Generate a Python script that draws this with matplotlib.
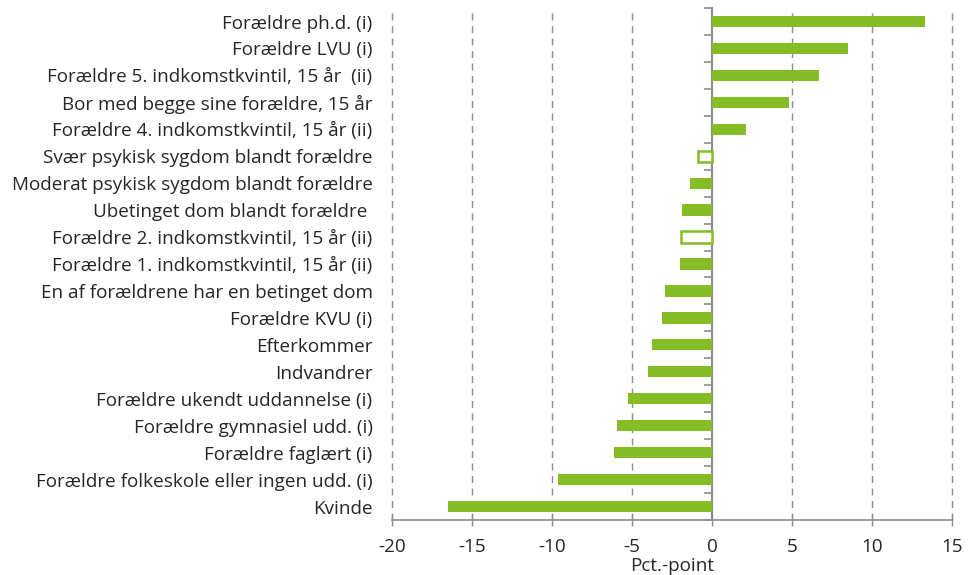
import matplotlib.pyplot as plt
import numpy as np

plt.rcParams['font.family'] = ['Open Sans', 'DejaVu Sans']

# Kategorier (fra øverst til nederst)
kategorier = [
    "Forældre ph.d. (i)",
    "Forældre LVU (i)",
    "Forældre 5. indkomstkvintil, 15 år  (ii)",
    "Bor med begge sine forældre, 15 år",
    "Forældre 4. indkomstkvintil, 15 år (ii)",
    "Svær psykisk sygdom blandt forældre",
    "Moderat psykisk sygdom blandt forældre",
    "Ubetinget dom blandt forældre ",
    "Forældre 2. indkomstkvintil, 15 år (ii)",
    "Forældre 1. indkomstkvintil, 15 år (ii)",
    "En af forældrene har en betinget dom",
    "Forældre KVU (i)",
    "Efterkommer",
    "Indvandrer",
    "Forældre ukendt uddannelse (i)",
    "Forældre gymnasiel udd. (i)",
    "Forældre faglært (i)",
    "Forældre folkeskole eller ingen udd. (i)",
    "Kvinde",
]
vaerdier = [13.3, 8.5, 6.7, 4.8, 2.1, -0.85, -1.4, -1.9, -1.95, -2.0,
            -2.95, -3.1, -3.75, -4.0, -5.25, -5.95, -6.15, -9.65, -16.5]
# ikke-signifikante estimater vises som hule søjler
hul = [False, False, False, False, False, True, False, False, True, False,
       False, False, False, False, False, False, False, False, False]

groen = '#86bc25'
graa = '#8c8c8c'
fs = 13.6

fig = plt.figure(figsize=(9.68, 5.75), dpi=100)
ax = fig.add_axes([0.405, 0.0957, 0.5785, 0.8903])

y = np.arange(len(kategorier))
for yi, v, h in zip(y, vaerdier, hul):
    if h:
        ax.barh(yi, v, height=0.42, color='white', edgecolor=groen, linewidth=1.8, zorder=3)
    else:
        ax.barh(yi, v, height=0.42, color=groen, edgecolor='none', zorder=3)

ax.set_xlim(-20, 15)
ax.set_ylim(len(kategorier) - 0.5, -0.5)
ax.set_xticks(np.arange(-20, 16, 5))
ax.set_xticklabels([str(t) for t in range(-20, 16, 5)])

# y-etiketter
ax.set_yticks(y)
ax.set_yticklabels(kategorier)
ax.tick_params(axis='y', length=0, pad=14, labelsize=fs, colors='#262626')
ax.tick_params(axis='x', direction='inout', length=8, width=1, color=graa,
               labelsize=fs, labelcolor='#262626', pad=9)

# gitterlinjer
for t in range(-20, 16, 5):
    if t != 0:
        ax.axvline(t, color=graa, linestyle=(0, (5, 4)), linewidth=1, zorder=1,
                   clip_on=False)

for s in ['top', 'right', 'left']:
    ax.spines[s].set_visible(False)
ax.spines['bottom'].set_color(graa)
ax.spines['bottom'].set_linewidth(1.2)

# nul-akse med streger mellem kategorierne
nul = ax.secondary_yaxis(20 / 35)
nul.set_alignment('left')
nul.set_yticks(np.arange(len(kategorier) + 1) - 0.5)
nul.set_yticklabels([])
nul.tick_params(axis='y', direction='out', length=6, width=1.2, color=graa)
nul.spines['left'].set_color(graa)
nul.spines['left'].set_linewidth(1.5)

ax.set_xlabel('Pct.-point', fontsize=fs, color='#262626', labelpad=1)

fig.savefig('out.png', dpi=100)
